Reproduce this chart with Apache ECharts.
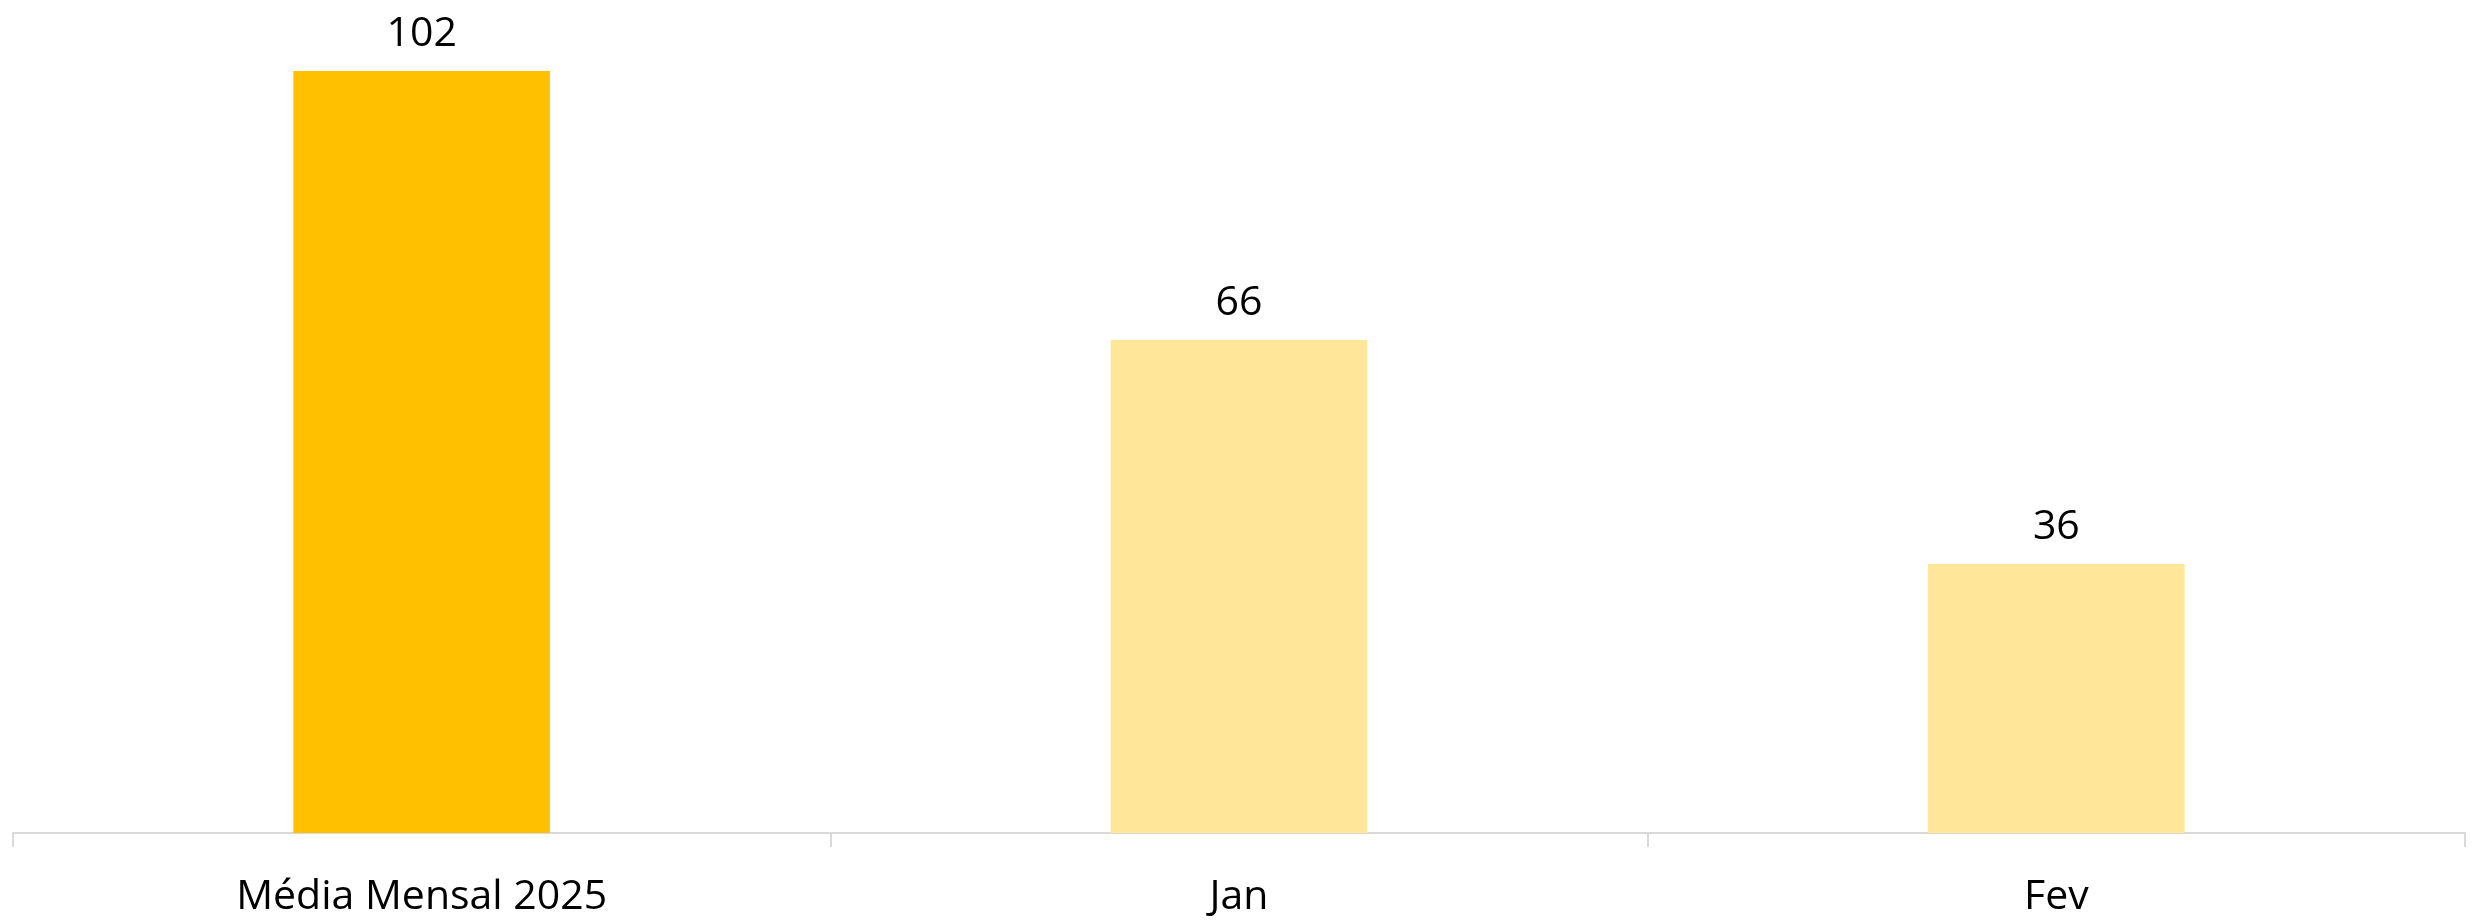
<!DOCTYPE html>
<html>
<head>
<meta charset="utf-8">
<script src="https://cdn.jsdelivr.net/npm/echarts@6/dist/echarts.min.js"></script>
<style>
  html, body { margin: 0; padding: 0; background: #fff; }
  #chart { width: 2483px; height: 922px; }
</style>
</head>
<body>
<div id="chart"></div>
<script>
const categories = ['Média Mensal 2025', 'Jan', 'Fev'];
const values = [102, 66, 36];
const barColors = ['#FFC000', '#FFE699', '#FFE699'];

const chart = echarts.init(document.getElementById('chart'));
var option = {
    animation: false,
    textStyle: { fontFamily: 'Open Sans' },
    grid: { left: 13, right: 18, top: 71, bottom: 89, containLabel: false },
    xAxis: {
        type: 'category',
        data: categories,
        boundaryGap: true,
        axisLine: { show: true, lineStyle: { color: '#d9d9d9', width: 2 } },
        axisTick: { show: true, alignWithLabel: false, length: 14, lineStyle: { color: '#d9d9d9', width: 2 } },
        axisLabel: { color: '#000', fontSize: 41, fontFamily: 'Open Sans', margin: 44 }
    },
    yAxis: {
        type: 'value',
        min: 0,
        max: 102,
        show: false,
        splitLine: { show: false }
    },
    series: [
        {
            type: 'bar',
            barWidth: '31.4%',
            data: values.map((v, i) => {
                return { value: v, itemStyle: { color: barColors[i] } }
            }),
            label: {
                show: true,
                position: 'top',
                distance: 16,
                color: '#000',
                fontSize: 41,
                fontFamily: 'Open Sans'
            }
        }
    ]
};
chart.setOption(option);
</script>
</body>
</html>
